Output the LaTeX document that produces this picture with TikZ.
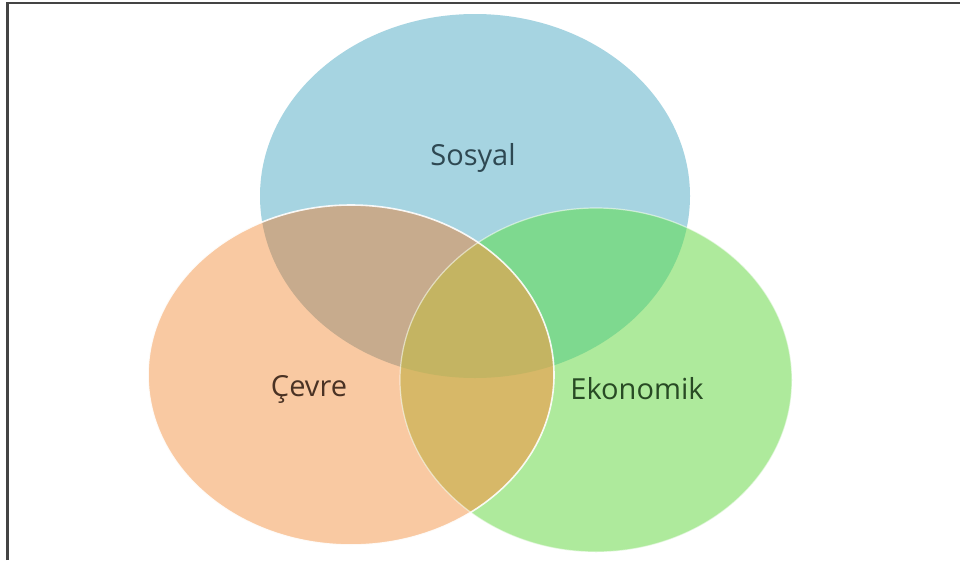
\documentclass[tikz,border=0pt]{standalone}
\usepackage{fontspec}
\setmainfont{Open Sans}
\definecolor{blueC}{HTML}{A6D4E1}
\definecolor{orangeC}{HTML}{F9C9A2}
\definecolor{greenC}{HTML}{AEEA9C}
\definecolor{boC}{HTML}{C7AB8D}
\definecolor{bgC}{HTML}{7ED98F}
\definecolor{ogC}{HTML}{D7B868}
\definecolor{bogC}{HTML}{C4B462}
\definecolor{frameC}{HTML}{444444}
\definecolor{txtS}{HTML}{2E4852}
\definecolor{txtC}{HTML}{4A3224}
\definecolor{txtE}{HTML}{284A24}
\tikzset{
  lbl/.style={inner sep=0pt, font=\fontsize{29}{34}\selectfont},
}
\def\blueE{(475,196) ellipse [x radius=215pt, y radius=182pt]}
\def\orangeE{(351,375) ellipse [x radius=203pt, y radius=170pt]}
\def\greenE{(596,380) ellipse [x radius=196pt, y radius=172pt]}
\begin{document}
\begin{tikzpicture}[x=1pt,y=-1pt]
\useasboundingbox (0,0) rectangle (960,560);
\fill[white] (0,0) rectangle (960,560);
% base fills
\fill[blueC] \blueE;
\fill[orangeC] \orangeE;
\fill[greenC] \greenE;
% overlaps
\begin{scope}
  \clip \blueE;
  \fill[boC] \orangeE;
  \fill[bgC] \greenE;
\end{scope}
\begin{scope}
  \clip \orangeE;
  \fill[ogC] \greenE;
\end{scope}
\begin{scope}
  \clip \blueE;
  \clip \orangeE;
  \fill[bogC] \greenE;
\end{scope}
% outlines
\draw[white, line width=1.2pt, opacity=0.55] \greenE;
\draw[white, line width=1.6pt, opacity=0.9] \orangeE;
% frame (top and left only)
\draw[frameC, line width=2.2pt] (7.5,560) -- (7.5,3) -- (960,3);
% labels
\node[lbl, text=txtS] (sosyal) at (473,158) {Sosyal};
\node[lbl, text=txtC] (cevre) at (309,389) {Çevre};
\node[lbl, text=txtE] (ekonomik) at (637,389) {Ekonomik};
\end{tikzpicture}
\end{document}
